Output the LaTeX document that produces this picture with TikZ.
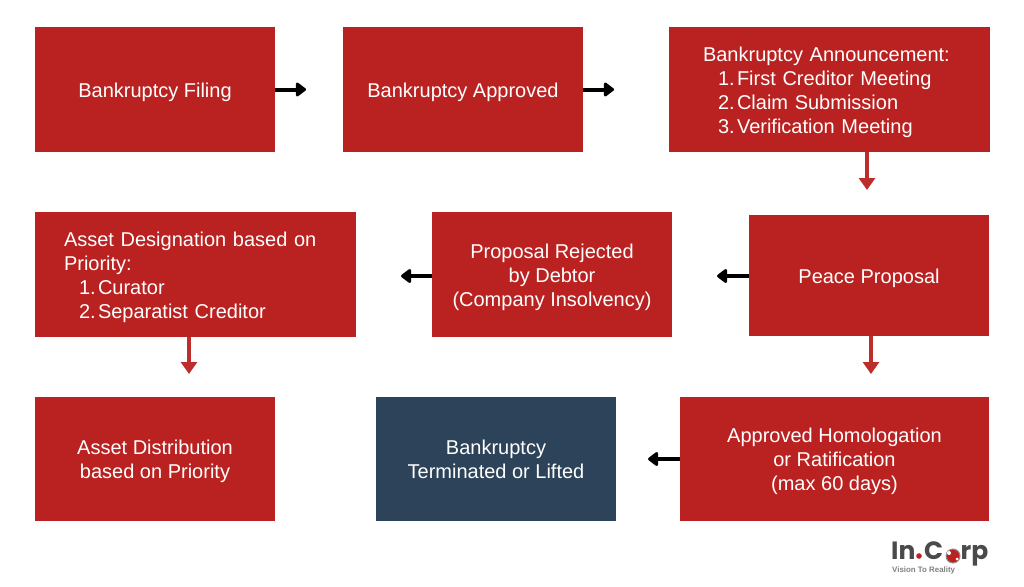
\documentclass[tikz,border=0pt]{standalone}
\usepackage{fontspec}
\setmainfont{Liberation Sans}
\newfontfamily\logofont{Poppins}
\usepackage{xcolor}
\usetikzlibrary{arrows.meta, positioning}
\definecolor{icRed}{HTML}{B92221}
\definecolor{icNavy}{HTML}{2C4359}
\definecolor{icGray}{HTML}{4A4A4A}
\newcommand{\listline}[2]{\hspace*{15pt}\makebox[19pt][l]{#1}#2}
\newcommand{\firststrut}{\rule{0pt}{19.5pt}}
\tikzset{
  stagebox/.style={
    fill=#1, text=white, inner sep=0pt,
    align=center, font=\fontsize{20}{24}\selectfont
  },
  stagebox/.default=icRed,
  listbox/.style={stagebox, align=left, text width=#1},
  arr/.style={-{Triangle[length=11pt, width=16pt, round]}, line width=4pt, black},
  arrc/.style={-{Triangle[length=12pt, width=16pt]}, line width=4.5pt, icRed!95!white},
  logotext/.style={font=\logofont\bfseries\fontsize{25}{25}\selectfont, text=icGray, inner sep=0pt, anchor=base west}
}
\begin{document}
\begin{tikzpicture}[x=1pt, y=-1pt]
\useasboundingbox (0,0) rectangle (1024,586);

% First row
\node[stagebox, minimum width=240pt, minimum height=125pt] (filing) at (155,89.5) {\firststrut Bankruptcy Filing};
\node[stagebox, minimum width=240pt, minimum height=125pt] (approved) at (463,89.5) {\firststrut Bankruptcy Approved};
\node[listbox=253pt, minimum width=321pt, minimum height=125pt] (announce) at (829.5,89.5) {\firststrut Bankruptcy Announcement:\\
  \listline{1.}{First Creditor Meeting}\\
  \listline{2.}{Claim Submission}\\
  \listline{3.}{Verification Meeting}};

% Second row
\node[stagebox, minimum width=240pt, minimum height=121pt] (peace) at (869,275.5) {\firststrut Peace Proposal};
\node[stagebox, minimum width=240pt, minimum height=125pt] (rejected) at (552,274.5) {\firststrut Proposal Rejected\\by Debtor\\(Company Insolvency)};
\node[listbox=263pt, minimum width=321pt, minimum height=125pt] (designation) at (195.5,274.5) {\firststrut Asset Designation based on\\
  Priority:\\
  \listline{1.}{Curator}\\
  \listline{2.}{Separatist Creditor}};

% Third row
\node[stagebox, minimum width=240pt, minimum height=124pt] (distribution) at (155,459) {\firststrut Asset Distribution\\based on Priority};
\node[stagebox=icNavy, minimum width=240pt, minimum height=124pt] (terminated) at (496,459) {Bankruptcy\\Terminated or Lifted};
\node[stagebox, minimum width=309pt, minimum height=124pt] (homologation) at (834.5,459) {\firststrut Approved Homologation\\or Ratification\\(max 60 days)};

% Free arrow ends
\coordinate (filingend) at (306,89.5);
\coordinate (approvedend) at (614,89.5);
\coordinate (announcestart) at (867,152);
\coordinate (announceend) at (867,190);
\coordinate (peaceend) at (717,276);
\coordinate (rejectedend) at (401,276);
\coordinate (peacestart) at (871,336);
\coordinate (peacedown) at (871,374);
\coordinate (designationstart) at (189,337);
\coordinate (designationend) at (189,374);
\coordinate (homologationend) at (648,459);

% Connections
\draw[arr] (filing.east) -- (filingend);
\draw[arr] (approved.east) -- (approvedend);
\draw[arrc] (announcestart) -- (announceend);
\draw[arr] (peace.west |- peaceend) -- (peaceend);
\draw[arr] (rejected.west |- rejectedend) -- (rejectedend);
\draw[arrc] (peacestart) -- (peacedown);
\draw[arrc] (designationstart) -- (designationend);
\draw[arr] (homologation.west) -- (homologationend);

% Logo
\node[logotext] (logoin) at (891,559) {In};
\fill[icRed] (919,556) circle (2.8pt);
\node[logotext] (logoc) at (924,559) {C};
\node[circle, draw=icGray!60, line width=1pt, fill=icRed, minimum size=14pt, inner sep=0pt] (logoglobe) at (953,556) {};
\fill[white] (949,553) circle (2pt) (957,559) circle (1.5pt);
\node[logotext] (logorp) at (960.5,559) {rp};
\node[font=\bfseries\fontsize{7.9}{10}\selectfont, text=gray, inner sep=0pt, anchor=west] (logotag) at (892,570.5) {Vision To Reality};

\end{tikzpicture}
\end{document}
